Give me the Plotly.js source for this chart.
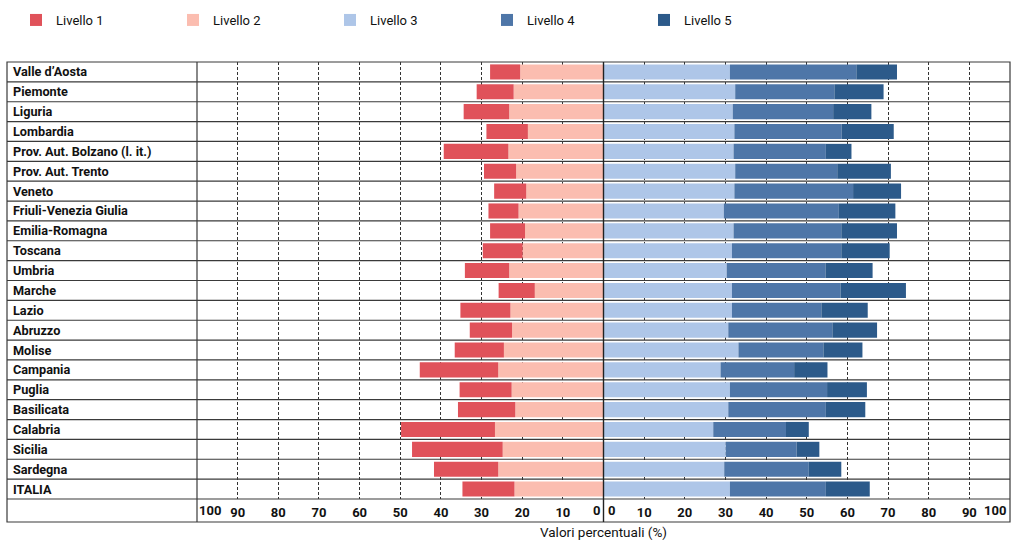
<!DOCTYPE html>
<html>
<head>
<meta charset="utf-8">
<script src="https://cdn.plot.ly/plotly-3.0.1.min.js"></script>
<style>html,body{margin:0;padding:0;background:#fff;}#chart{width:1023px;height:545px;}</style>
</head>
<body>
<div id="chart"></div>
<script>
const regions = ["Valle d\u2019Aosta","Piemonte","Liguria","Lombardia","Prov. Aut. Bolzano (l. it.)","Prov. Aut. Trento","Veneto","Friuli-Venezia Giulia","Emilia-Romagna","Toscana","Umbria","Marche","Lazio","Abruzzo","Molise","Campania","Puglia","Basilicata","Calabria","Sicilia","Sardegna","ITALIA"];
const livello1 = [7.4, 9.1, 11.2, 10.2, 15.9, 7.9, 7.9, 7.4, 8.6, 9.8, 10.9, 8.9, 12.3, 10.4, 12.1, 19.3, 12.8, 14.1, 23.1, 22.3, 15.8, 12.8];
const livello2 = [20.5, 22.1, 23.2, 18.6, 23.4, 21.5, 19.0, 20.9, 19.3, 19.9, 23.2, 16.9, 22.9, 22.5, 24.5, 25.9, 22.6, 21.7, 26.7, 24.8, 25.9, 21.9];
const livello3 = [31.1, 32.4, 31.8, 32.2, 32.0, 32.4, 32.2, 29.6, 32.0, 31.6, 30.3, 31.6, 31.6, 30.7, 33.2, 28.8, 31.1, 30.7, 27.0, 30.1, 29.7, 31.1];
const livello4 = [31.1, 24.4, 24.7, 26.4, 22.7, 25.1, 29.2, 28.3, 26.5, 26.9, 24.3, 26.7, 22.0, 25.6, 20.9, 18.1, 23.9, 24.0, 17.9, 17.4, 20.8, 23.6];
const livello5 = [10.0, 12.1, 9.4, 12.8, 6.3, 13.2, 11.8, 13.9, 13.7, 11.9, 11.6, 16.1, 11.4, 11.0, 9.6, 8.2, 9.8, 9.7, 5.6, 5.6, 8.0, 10.8];
const seriesNames = ["Livello 1","Livello 2","Livello 3","Livello 4","Livello 5"];
const seriesColors = ["#E0525A","#FBBDB0","#AEC6E8","#4E76A8","#2C5A8A"];
const tickValues = [-90,-80,-70,-60,-50,-40,-30,-20,-10,10,20,30,40,50,60,70,80,90];
const tickLabels = ["90","80","70","60","50","40","30","20","10","10","20","30","40","50","60","70","80","90"];
const xTitle = "Valori percentuali (%)";

const FONT = "Roboto, 'Noto Sans', sans-serif";
const neg = a => a.map(v => -v);
function bar(name, vals, color, rank) {
  return {type:'bar', orientation:'h', name:name, x:vals, y:regions,
    marker:{color:color, line:{width:0}}, legendrank:rank, hoverinfo:'skip'};
}
const data = [
  bar(seriesNames[1], neg(livello2), seriesColors[1], 2),
  bar(seriesNames[0], neg(livello1), seriesColors[0], 1),
  bar(seriesNames[2], livello3, seriesColors[2], 3),
  bar(seriesNames[3], livello4, seriesColors[3], 4),
  bar(seriesNames[4], livello5, seriesColors[4], 5)
];

const L = 197, R = 1010, T = 62, B = 499, W = 1023, H = 545;
const pw = R - L, ph = B - T;
const px2x = p => (p - L) / pw;
const py2y = p => (B - p) / ph;
const leftEdge = px2x(7), bottomEdge = py2y(522);
const lineCol = '#3a3a3a';

const shapes = [];
for (let i = 0; i < regions.length - 1; i++) {
  shapes.push({type:'line', xref:'paper', yref:'y', x0:leftEdge, x1:1, y0:i+0.5, y1:i+0.5, line:{color:lineCol, width:1.2}, layer:'above'});
}
shapes.push({type:'line', xref:'paper', yref:'paper', x0:leftEdge, x1:1, y0:0, y1:0, line:{color:lineCol, width:1.2}, layer:'above'});
shapes.push({type:'rect', xref:'paper', yref:'paper', x0:leftEdge, x1:1, y0:bottomEdge, y1:1, line:{color:lineCol, width:1.2}, fillcolor:'rgba(0,0,0,0)', layer:'above'});
shapes.push({type:'line', xref:'paper', yref:'paper', x0:0, x1:0, y0:bottomEdge, y1:1, line:{color:lineCol, width:1.2}, layer:'above'});
shapes.push({type:'line', xref:'x', yref:'paper', x0:0, x1:0, y0:bottomEdge, y1:1, line:{color:'#222', width:1.4}, layer:'above'});

const annotations = regions.map(r => ({xref:'paper', yref:'y', x:px2x(11), y:r, xanchor:'left', yanchor:'middle',
  text:'<b>'+r+'</b>', showarrow:false, font:{family:FONT, size:12.7, color:'#111'}}));
const edgeLab = (x, txt, anchor, shift) => ({xref:'x', yref:'paper', x:x, y:py2y(511), xanchor:anchor, yanchor:'middle',
  text:'<b>'+txt+'</b>', showarrow:false, xshift:shift, font:{family:FONT, size:13, color:'#111'}});
annotations.push(edgeLab(-100, '100', 'left', 0));
annotations.push(edgeLab(0, '0', 'right', -2));
annotations.push(edgeLab(0, '0', 'left', 2));
annotations.push(edgeLab(100, '100', 'right', -2));

const layout = {
  width: W, height: H,
  margin: {l:L, r:W-R, t:T, b:H-B, pad:0, autoexpand:false},
  paper_bgcolor:'#fff', plot_bgcolor:'#fff',
  barmode:'relative', bargap:0.24,
  font:{family:FONT, color:'#111'},
  showlegend:true,
  legend:{orientation:'h', x:px2x(16), xanchor:'left', y:py2y(20), yanchor:'middle',
    entrywidth:112, entrywidthmode:'pixels', traceorder:'normal',
    font:{family:FONT, size:13, color:'#111'}, itemclick:false, itemdoubleclick:false},
  xaxis:{range:[-100,100], tickvals:tickValues, ticktext:tickLabels, ticks:'',
    showgrid:true, gridcolor:'#333', gridwidth:1, griddash:'3px,2px',
    zeroline:false, showline:false, fixedrange:true,
    tickfont:{family:FONT, size:13, color:'#111', weight:'bold'}, ticklabelstandoff:4,
    title:{text:xTitle, font:{family:FONT, size:13.5, color:'#111'}, standoff:8}},
  yaxis:{type:'category', categoryorder:'array', categoryarray:regions,
    range:[regions.length-0.5, -0.5], autorange:false, showticklabels:false, ticks:'', showgrid:false, zeroline:false, showline:false, fixedrange:true},
  shapes:shapes, annotations:annotations
};
Plotly.newPlot('chart', data, layout, {displayModeBar:false, staticPlot:true});
</script>
</body>
</html>
